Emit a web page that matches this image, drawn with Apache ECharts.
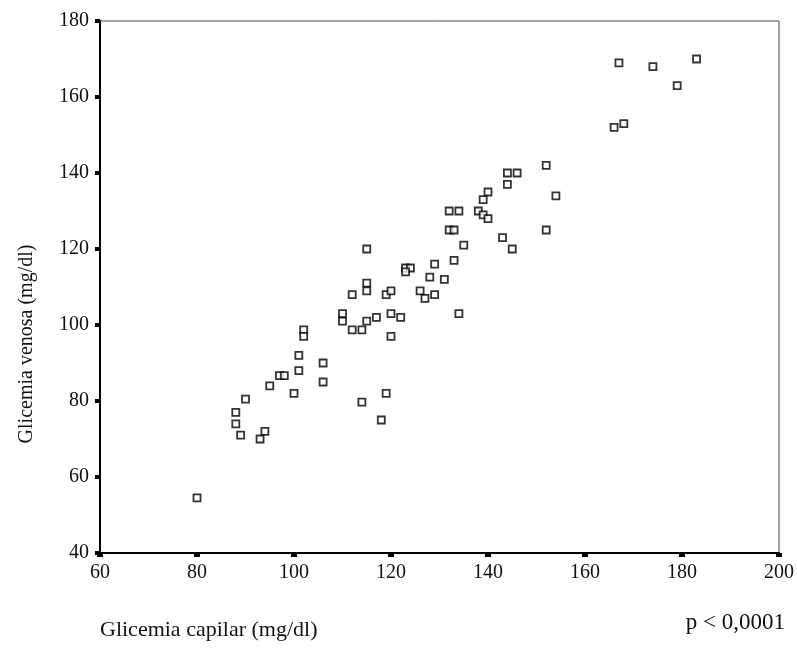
<!DOCTYPE html>
<html>
<head>
<meta charset="utf-8">
<script src="https://cdn.jsdelivr.net/npm/echarts@6/dist/echarts.min.js"></script>
<style>
  html, body { margin: 0; padding: 0; background: #fff; }
  #myChart { width: 797px; height: 649px; }
</style>
</head>
<body>
<div id="myChart"></div>
<script>
let myChart = echarts.init(document.getElementById('myChart'));

// glicemia capilar (x) / glicemia venosa (y), mg/dl
const capilar = [
  80, 88, 88, 89, 90, 94, 93, 95, 97, 98,
  100, 101, 101, 102, 102, 106, 106, 110, 110, 112,
  112, 114, 114, 115, 115, 115, 115, 117, 118, 119,
  119, 120, 120, 120, 122, 123, 124, 123, 126, 127,
  129, 128, 129, 131, 132, 134, 132, 133, 133, 134,
  135, 138, 139, 140, 140, 139, 143, 145, 144, 146,
  144, 152, 152, 154, 166, 168, 167, 174, 179, 183,
];
const venosa = [
  54.5, 77, 74, 71, 80.5, 72, 70, 84, 86.7, 86.7,
  82, 92, 88, 98.7, 97, 90, 85, 103, 101, 108,
  98.7, 98.7, 79.7, 120, 111, 109, 101, 102, 75, 82,
  108, 109, 103, 97, 102, 115, 115, 114, 109, 107,
  108, 112.6, 116, 112, 130, 130, 125, 125, 117, 103,
  121, 130, 129, 128, 135, 133, 123, 120, 140, 140,
  137, 142, 125, 134, 152, 153, 169, 168, 163, 170,
];

const xTicks = [60, 80, 100, 120, 140, 160, 180, 200];
const yTicks = [40, 60, 80, 100, 120, 140, 160, 180];

const points = capilar.map(function (x, i) {
  return [x, venosa[i]];
});

const serif = '"Liberation Serif", "DejaVu Serif", serif';

let myChartOption = {
  backgroundColor: '#fff',
  animation: false,
  grid: {
    left: 100,
    top: 21,
    right: 16,
    bottom: 96,
    show: true,
    borderColor: '#444',
    borderWidth: 1,
  },
  xAxis: {
    type: 'value',
    min: xTicks[0],
    max: xTicks[xTicks.length - 1],
    interval: 20,
    axisLine: { show: true, lineStyle: { color: '#000', width: 2 } },
    axisTick: { show: true, length: 4, lineStyle: { color: '#000', width: 6 } },
    axisLabel: { color: '#111', fontFamily: serif, fontSize: 20, margin: 10 },
    splitLine: { show: false },
  },
  yAxis: {
    type: 'value',
    min: yTicks[0],
    max: yTicks[yTicks.length - 1],
    interval: 20,
    axisLine: { show: true, lineStyle: { color: '#000', width: 2 } },
    axisTick: { show: true, length: 5, lineStyle: { color: '#000', width: 4 } },
    axisLabel: { color: '#111', fontFamily: serif, fontSize: 20, margin: 11 },
    splitLine: { show: false },
  },
  graphic: [
    {
      type: 'text',
      left: 100,
      top: 619,
      style: {
        text: 'Glicemia capilar (mg/dl)',
        font: '22px ' + serif,
        fill: '#111',
      },
    },
    {
      type: 'text',
      right: 12,
      top: 611,
      style: {
        text: 'p < 0,0001',
        font: '23px ' + serif,
        fill: '#111',
      },
    },
    {
      type: 'text',
      x: 27,
      y: 344,
      rotation: Math.PI / 2,
      style: {
        text: 'Glicemia venosa (mg/dl)',
        font: '20px ' + serif,
        fill: '#111',
        align: 'center',
        verticalAlign: 'middle',
      },
    },
  ],
  series: [
    {
      name: 'glicemia',
      type: 'scatter',
      symbol: 'rect',
      symbolSize: 7,
      data: points,
      itemStyle: {
        color: '#fff',
        borderColor: '#000',
        borderWidth: 1.8,
      },
    },
  ],
};

myChart.setOption(myChartOption);
</script>
</body>
</html>
